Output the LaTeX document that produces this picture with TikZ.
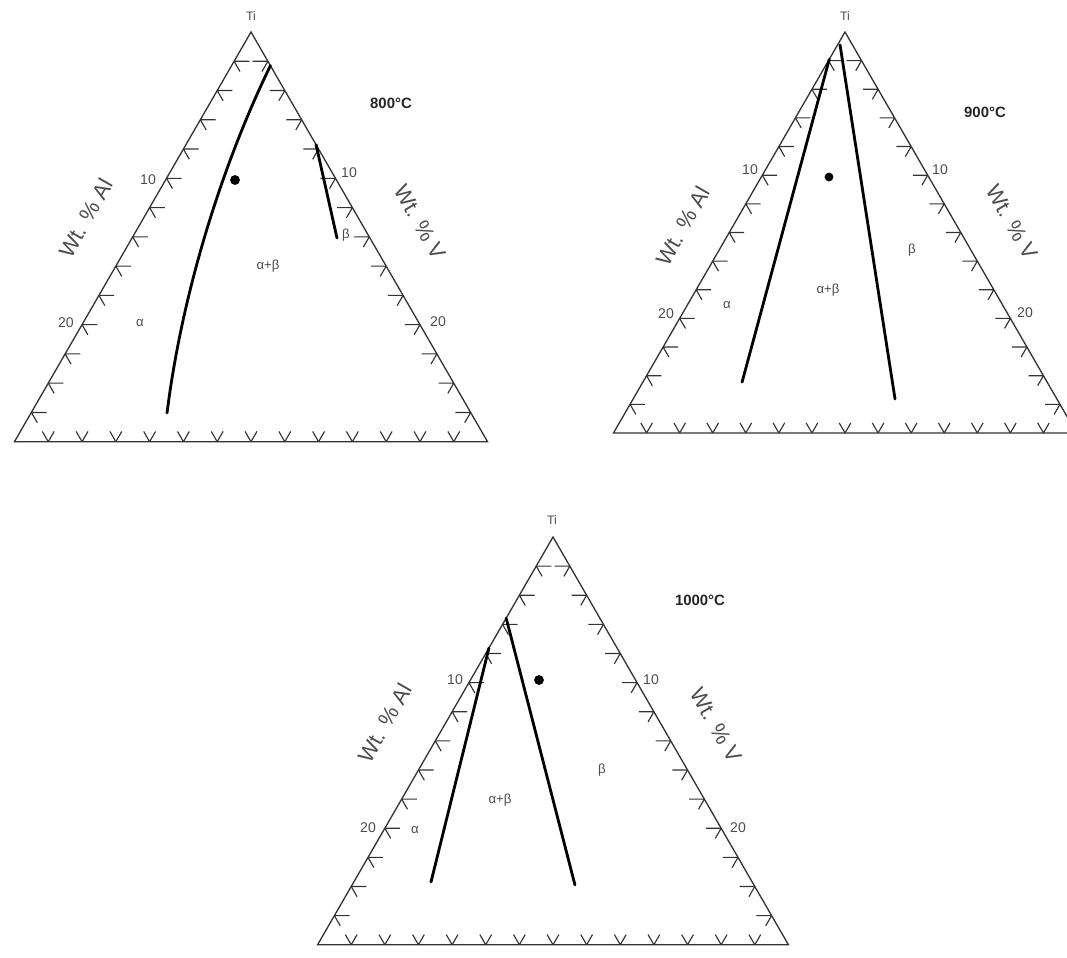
\documentclass[tikz,border=0pt]{standalone}
\usepackage{fontspec}
\setmainfont{Liberation Sans}
\usepackage{xcolor}
\definecolor{axisgray}{gray}{0.2}
\definecolor{labgray}{gray}{0.3}
\usetikzlibrary{positioning}

% triangle with scale marks every 2 wt.%, drawn in ternary (Al,V) coordinates
\newcommand{\ternframe}{%
  \draw[frame] (0,0) -- (28,0) -- (0,28) -- cycle;
  \foreach \i in {2,4,...,26}{
    \draw[tick] (\i,0) -- ++(-0.9,0.9) (\i,0) -- ++(0,0.7);
    \draw[tick] (0,\i) -- ++(0.9,-0.9) (0,\i) -- ++(0.7,0);
    \draw[tick] ({28-\i},\i) -- ++(-0.7,0) ({28-\i},\i) -- ++(0,-0.7);
  }%
}

\begin{document}
\begin{tikzpicture}[
  x=0.02cm, y=-0.02cm,
  font=\fontsize{8}{9}\selectfont,
  frame/.style={draw=axisgray, line width=0.75pt},
  tick/.style={draw=axisgray, line width=0.65pt},
  phase/.style={draw=black, line width=1.6pt, line cap=round},
  ternary/.style={
    x={({-0.5*#1*1cm},{-0.866*#1*1cm})},
    y={({0.5*#1*1cm},{-0.866*#1*1cm})}
  },
  corner/.style={font=\fontsize{7}{8}\selectfont, text=labgray, inner sep=1pt},
  temp/.style={font=\bfseries\fontsize{8.5}{9}\selectfont, text=black!85},
  scalelab/.style={text=labgray, inner sep=1pt},
  axislab/.style={font=\fontsize{12.5}{13}\selectfont, text=labgray, inner sep=1pt},
  region/.style={font=\fontsize{7.5}{8}\selectfont, text=labgray, inner sep=1pt},
  alloy/.style={circle, fill=black, inner sep=0pt, minimum size=5.6pt}
]
\useasboundingbox (0,0) rectangle (1067,957);
\clip (0,0) rectangle (1067,957);

\coordinate (apexA) at (251,32);
\coordinate (apexB) at (845,32);
\coordinate (apexC) at (553,537);

% 800 C
\begin{scope}[shift={(apexA)}, ternary=0.338]
  \ternframe
  \draw[phase] (0,2.3) .. controls (6.26,2.83) and (13.0,4.83) .. (17.99,8.05);
  \draw[phase] (0,7.7) -- (1.95,12.13);
\end{scope}
\node[corner] (tiA) at (251,16) {Ti};
\node[temp] (tempA) at (391,103) {800°C};
\node[scalelab] (al10A) at (148,180) {10};
\node[scalelab] (al20A) at (66,323) {20};
\node[scalelab] (v10A) at (349,173) {10};
\node[scalelab] (v20A) at (438,322) {20};
\node[axislab, rotate=60] (alA) at (86,218) {Wt. \% Al};
\node[axislab, rotate=-60] (vA) at (420,222) {Wt. \% V};
\node[region] (aA) at (140,323) {α};
\node[region] (abA) at (268,266) {α+β};
\node[region] (bA) at (346,235) {β};
\node[alloy] (dotA) at (235,180) {};

% 900 C
\begin{scope}[shift={(apexB)}, ternary=0.3308]
  \ternframe
  \draw[phase] (1.9,0) -- (18.45,6.0);
  \draw[phase] (0.75,0.15) -- (9.79,15.84);
\end{scope}
\node[corner] (tiB) at (845,16) {Ti};
\node[temp] (tempB) at (985,112) {900°C};
\node[scalelab] (al10B) at (750,170) {10};
\node[scalelab] (al20B) at (666,314) {20};
\node[scalelab] (v10B) at (940,170) {10};
\node[scalelab] (v20B) at (1025,313) {20};
\node[axislab, rotate=60] (alB) at (683,226) {Wt. \% Al};
\node[axislab, rotate=-60] (vB) at (1012,222) {Wt. \% V};
\node[region] (aB) at (727,305) {α};
\node[region] (abB) at (828,290) {α+β};
\node[region] (bB) at (912,250) {β};
\node[alloy, minimum size=5pt] (dotB) at (829,177) {};

% 1000 C
\begin{scope}[shift={(apexC)}, ternary=0.3364]
  \ternframe
  \draw[phase] (7.62,0) -- (19.1,4.59);
  \draw[phase] (5.57,0) -- (10.64,13.25);
\end{scope}
\node[corner] (tiC) at (552,520) {Ti};
\node[temp] (tempC) at (700,600) {1000°C};
\node[scalelab] (al10C) at (455,680) {10};
\node[scalelab] (al20C) at (368,828) {20};
\node[scalelab] (v10C) at (651,680) {10};
\node[scalelab] (v20C) at (738,828) {20};
\node[axislab, rotate=60] (alC) at (385,723) {Wt. \% Al};
\node[axislab, rotate=-60] (vC) at (716,725) {Wt. \% V};
\node[region] (aC) at (415,830) {α};
\node[region] (abC) at (500,800) {α+β};
\node[region] (bC) at (602,770) {β};
\node[alloy] (dotC) at (539,680) {};
\end{tikzpicture}
\end{document}
